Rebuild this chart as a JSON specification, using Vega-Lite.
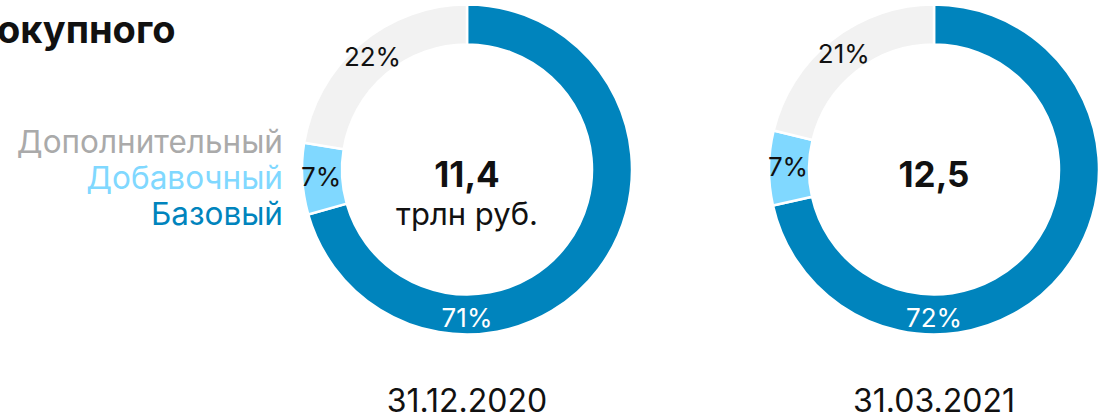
{
  "$schema": "https://vega.github.io/schema/vega-lite/v6.json",
  "width": 1101,
  "height": 419,
  "autosize": "none",
  "padding": 0,
  "background": "#ffffff",
  "config": {"view": {"stroke": null}, "font": "Inter", "text": {"font": "Inter"}},
  "datasets": {
    "shares": [
      {"date": "31.12.2020", "category": "Базовый", "share": 70.6, "label": "71%"},
      {"date": "31.12.2020", "category": "Добавочный", "share": 7.0, "label": "7%"},
      {"date": "31.12.2020", "category": "Дополнительный", "share": 22.4, "label": "22%"},
      {"date": "31.03.2021", "category": "Базовый", "share": 71.5, "label": "72%"},
      {"date": "31.03.2021", "category": "Добавочный", "share": 7.3, "label": "7%"},
      {"date": "31.03.2021", "category": "Дополнительный", "share": 21.2, "label": "21%"}
    ],
    "totals": [
      {"date": "31.12.2020", "value": "11,4", "unit": "трлн руб."},
      {"date": "31.03.2021", "value": "12,5", "unit": ""}
    ],
    "categories": [
      {"category": "Дополнительный"},
      {"category": "Добавочный"},
      {"category": "Базовый"}
    ],
    "heading": [{"title": "окупного"}]
  },
  "data": {"name": "shares"},
  "encoding": {
    "x": {"field": "date", "type": "nominal", "scale": {"type": "point", "domain": ["31.12.2020", "31.03.2021"], "range": [467, 934], "padding": 0}, "axis": null}
  },
  "layer": [
    {
      "transform": [{"filter": "datum.date === '31.12.2020'"}],
      "mark": {"type": "arc", "innerRadius": 125, "outerRadius": 165, "y": 169.5, "stroke": "#ffffff", "strokeWidth": 2.5},
      "encoding": {
        "theta": {"field": "share", "type": "quantitative", "stack": true, "scale": {"domain": [0, 100]}},
        "color": {"field": "category", "type": "nominal", "scale": {"domain": ["Базовый", "Добавочный", "Дополнительный"], "range": ["#0084BD", "#80D8FF", "#F2F2F2"]}, "legend": null},
        "order": {"field": "category", "type": "ordinal", "sort": "ascending"}
      }
    },
    {
      "transform": [{"filter": "datum.date === '31.03.2021'"}],
      "mark": {"type": "arc", "innerRadius": 125, "outerRadius": 165, "y": 169.5, "stroke": "#ffffff", "strokeWidth": 2.5},
      "encoding": {
        "theta": {"field": "share", "type": "quantitative", "stack": true, "scale": {"domain": [0, 100]}},
        "color": {"field": "category", "type": "nominal", "legend": null},
        "order": {"field": "category", "type": "ordinal", "sort": "ascending"}
      }
    },
    {
      "transform": [{"filter": "datum.date === '31.12.2020'"}],
      "mark": {"type": "text", "radius": 146, "y": 169.5, "fontSize": 26, "fill": "#111111", "align": "center", "baseline": "middle"},
      "encoding": {
        "theta": {"field": "share", "type": "quantitative", "stack": true},
        "text": {"field": "label"},
        "opacity": {"condition": {"test": "datum.category === 'Базовый'", "value": 0}, "value": 1},
        "order": {"field": "category", "type": "ordinal", "sort": "ascending"}
      }
    },
    {
      "transform": [{"filter": "datum.date === '31.03.2021'"}],
      "mark": {"type": "text", "radius": 146, "y": 169.5, "fontSize": 26, "fill": "#111111", "align": "center", "baseline": "middle"},
      "encoding": {
        "theta": {"field": "share", "type": "quantitative", "stack": true},
        "text": {"field": "label"},
        "opacity": {"condition": {"test": "datum.category === 'Базовый'", "value": 0}, "value": 1},
        "order": {"field": "category", "type": "ordinal", "sort": "ascending"}
      }
    },
    {
      "transform": [{"filter": "datum.category === 'Базовый'"}],
      "mark": {"type": "text", "radius": 149, "theta": 3.14159265, "y": 169.5, "fontSize": 26, "fill": "#ffffff", "align": "center", "baseline": "middle"},
      "encoding": {
        "text": {"field": "label"}
      }
    },
    {
      "data": {"name": "totals"},
      "mark": {"type": "text", "y": 187, "fontSize": 35, "fontWeight": "bold", "fill": "#111111", "align": "center", "baseline": "alphabetic"},
      "encoding": {"text": {"field": "value"}}
    },
    {
      "data": {"name": "totals"},
      "mark": {"type": "text", "y": 225, "fontSize": 31, "fill": "#111111", "align": "center", "baseline": "alphabetic"},
      "encoding": {"text": {"field": "unit"}}
    },
    {
      "data": {"name": "totals"},
      "mark": {"type": "text", "y": 412, "fontSize": 32, "fill": "#111111", "align": "center", "baseline": "alphabetic"},
      "encoding": {"text": {"field": "date"}}
    },
    {
      "data": {"name": "categories"},
      "mark": {"type": "text", "x": 283, "fontSize": 31.5, "align": "right", "baseline": "alphabetic"},
      "encoding": {
        "x": null,
        "y": {"field": "category", "type": "nominal", "scale": {"type": "point", "domain": ["Дополнительный", "Добавочный", "Базовый"], "range": [153, 225], "padding": 0}, "axis": null},
        "text": {"field": "category"},
        "fill": {"field": "category", "type": "nominal", "scale": {"domain": ["Базовый", "Добавочный", "Дополнительный"], "range": ["#0084BD", "#80D8FF", "#AAAAAA"]}, "legend": null}
      }
    },
    {
      "data": {"name": "heading"},
      "mark": {"type": "text", "x": -3, "y": 43, "fontSize": 38, "fontWeight": "bold", "fill": "#111111", "align": "left", "baseline": "alphabetic"},
      "encoding": {"x": null, "text": {"field": "title"}}
    }
  ]
}
